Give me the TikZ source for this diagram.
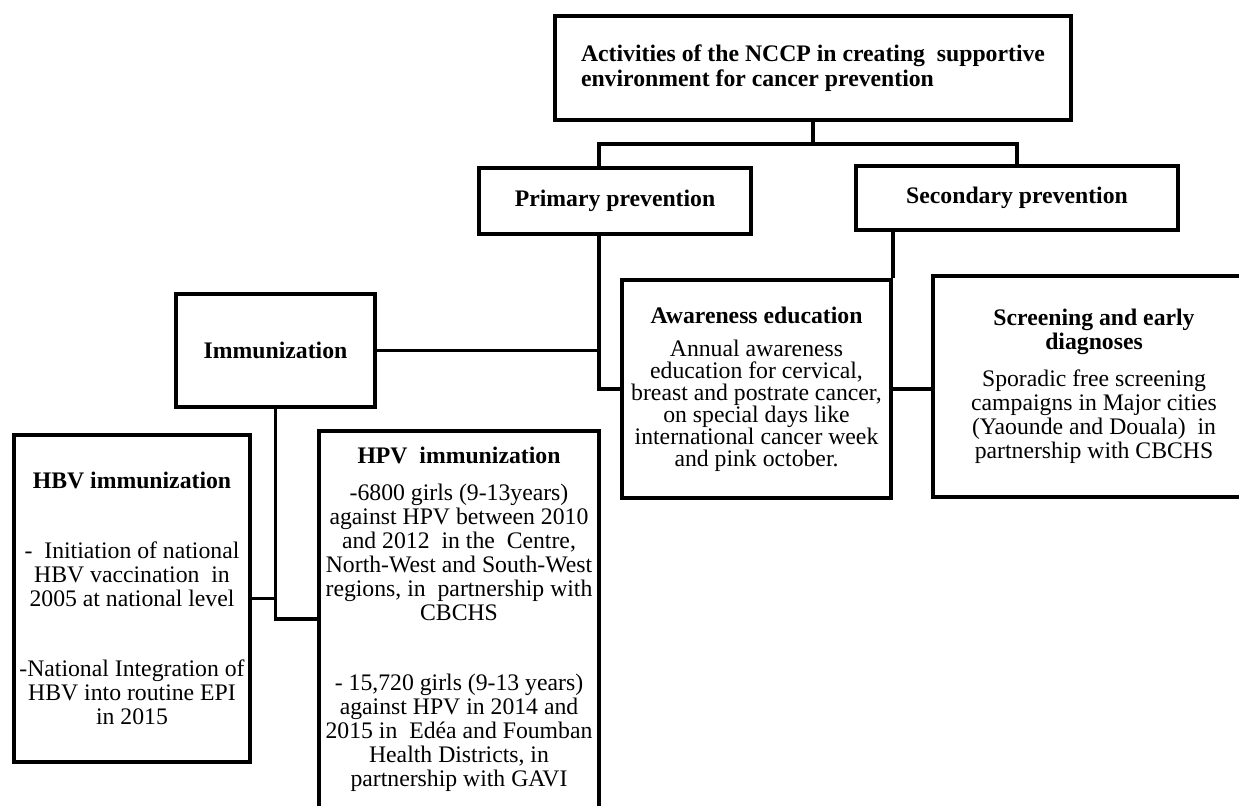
\documentclass[tikz,border=0pt]{standalone}
\usepackage{fontspec}
\setmainfont{Liberation Serif}
\tikzset{
  box/.style={draw, line width=2.2pt, inner sep=0pt, align=center,
    font=\fontsize{13.5}{13.66}\selectfont},
  link/.style={line width=2.2pt},
}
\begin{document}
\begin{tikzpicture}[x=0.02cm,y=-0.02cm]
\useasboundingbox (0,0) rectangle (1239,805);

% boxes
\node[box, minimum width=10.32cm, minimum height=2.08cm, align=left,
  font=\fontsize{13.5}{14.2}\selectfont\bfseries] (top) at (813,68)
  {Activities of the NCCP in creating\ \ supportive\\ environment for cancer prevention};
\node[box, minimum width=5.44cm, minimum height=1.32cm] (prim) at (615,201)
  {\bfseries Primary prevention};
\node[box, minimum width=6.44cm, minimum height=1.28cm] (sec) at (1017,198)
  {\bfseries Secondary prevention};
\node[box, minimum width=5.38cm, minimum height=4.36cm,
  font=\fontsize{13.5}{12.5}\selectfont] (aware) at (756.5,389)
  {{\bfseries Awareness education}\\[6.3pt] Annual awareness\\ education for cervical,\\
   breast and postrate cancer,\\ on special days like\\ international cancer week\\ and pink october.};
\node[box, minimum width=6.44cm, minimum height=4.42cm] (screen) at (1094,386.5)
  {{\bfseries Screening and early}\\ {\bfseries diagnoses}\\[7.4pt] Sporadic free screening\\
   campaigns in Major cities\\ (Yaounde and Douala)\ \ in\\ partnership with CBCHS};
\node[box, minimum width=3.98cm, minimum height=2.26cm] (immun) at (275.5,350.5)
  {\bfseries Immunization};
\node[box, minimum width=4.72cm, minimum height=6.54cm] (hbv) at (132,598.5)
  {{\bfseries HBV immunization}\\[26pt] -\ \ Initiation of national\\ HBV vaccination\ \ in\\
   2005 at national level\\[26pt] -National Integration of\\ HBV into routine EPI\\ in 2015};
\node[box, minimum width=5.6cm, minimum height=7.98cm] (hpv) at (459,630.5)
  {{\bfseries HPV\ \ immunization}\\[7.4pt] -6800 girls (9-13years)\\ against HPV between 2010\\
   and 2012\ \ in the\ \ Centre,\\ North-West and South-West\\ regions, in\ \ partnership with\\
   CBCHS\\[26pt] - 15,720 girls (9-13 years)\\ against HPV in 2014 and\\
   2015 in\ \ Ed\'ea and Foumban\\ Health Districts, in\\ partnership with GAVI\\[1.7pt]\mbox{}};

% connectors
\coordinate (jA) at (599,144);
\coordinate (jB) at (275.5,619);
\draw[link] (top.south) -- (top.south |- jA);
\draw[link] (prim.north -| jA) -- (jA) -- (jA -| sec.north) -- (sec.north);
\draw[link] (prim.south -| jA) |- (aware.west);
\draw[link] (immun.east) -- (immun.east -| jA);
\draw[link] (sec.south -| aware.north east) -- (aware.north east);
\draw[link] (aware.east) -- (aware.east -| screen.west);
\draw[link] (immun.south) -- (jB) -- (jB -| hpv.west);
\draw[link] (hbv.east) -- (hbv.east -| jB);
\end{tikzpicture}
\end{document}
